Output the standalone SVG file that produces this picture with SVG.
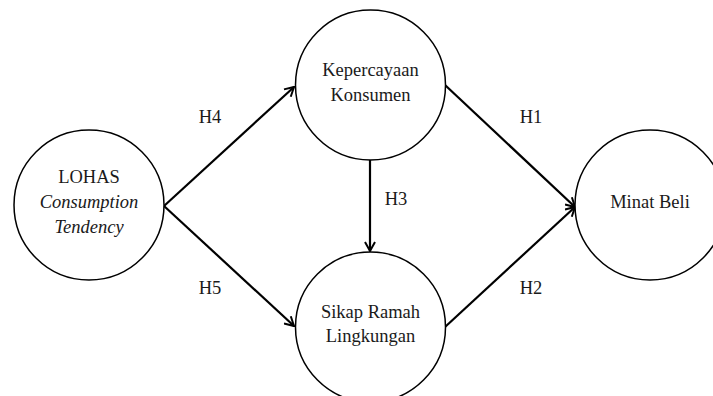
<svg xmlns="http://www.w3.org/2000/svg" width="713" height="396" viewBox="0 0 713 396">
<style>
.node{fill:#fff;stroke:#000;stroke-width:1.5}
.lbl{font-family:"Liberation Serif","Times New Roman",serif;font-size:18.5px;fill:#1a1a1a;text-anchor:middle}
.it{font-style:italic}
.edge{stroke:#000;stroke-width:2.2;fill:none;marker-end:url(#ah)}
</style>
<defs>
<marker id="ah" viewBox="0 0 12 12" refX="11" refY="6" markerWidth="12" markerHeight="12" markerUnits="userSpaceOnUse" orient="auto">
<path d="M2,1 L11,6 L2,11" fill="none" stroke="#000" stroke-width="2"/>
</marker>
</defs>
<rect width="713" height="396" fill="#fff"/>
<g id="connectors">
<line class="edge" x1="164" y1="206" x2="294" y2="87"/>
<line class="edge" x1="164" y1="206" x2="294" y2="326"/>
<line class="edge" x1="445" y1="85" x2="575" y2="207"/>
<line class="edge" x1="445" y1="327" x2="575" y2="207"/>
<line class="edge" x1="370" y1="160" x2="370" y2="251"/>
<text class="lbl" x="210" y="123">H4</text>
<text class="lbl" x="210" y="294">H5</text>
<text class="lbl" x="531" y="123">H1</text>
<text class="lbl" x="531" y="294">H2</text>
<text class="lbl" x="396" y="205">H3</text>
</g>
<g id="lohas">
<circle class="node" cx="89" cy="205" r="75"/>
<text class="lbl" x="89" y="183">LOHAS</text>
<text class="lbl it" x="89" y="208">Consumption</text>
<text class="lbl it" x="89" y="233">Tendency</text>
</g>
<g id="kepercayaan">
<circle class="node" cx="370.5" cy="85" r="75"/>
<text class="lbl" x="370.5" y="76">Kepercayaan</text>
<text class="lbl" x="370.5" y="101">Konsumen</text>
</g>
<g id="sikap">
<circle class="node" cx="370.5" cy="327" r="75"/>
<text class="lbl" x="370.5" y="318">Sikap Ramah</text>
<text class="lbl" x="370.5" y="342">Lingkungan</text>
</g>
<g id="minat">
<circle class="node" cx="650" cy="205" r="75"/>
<text class="lbl" x="650" y="208">Minat Beli</text>
</g>
</svg>
